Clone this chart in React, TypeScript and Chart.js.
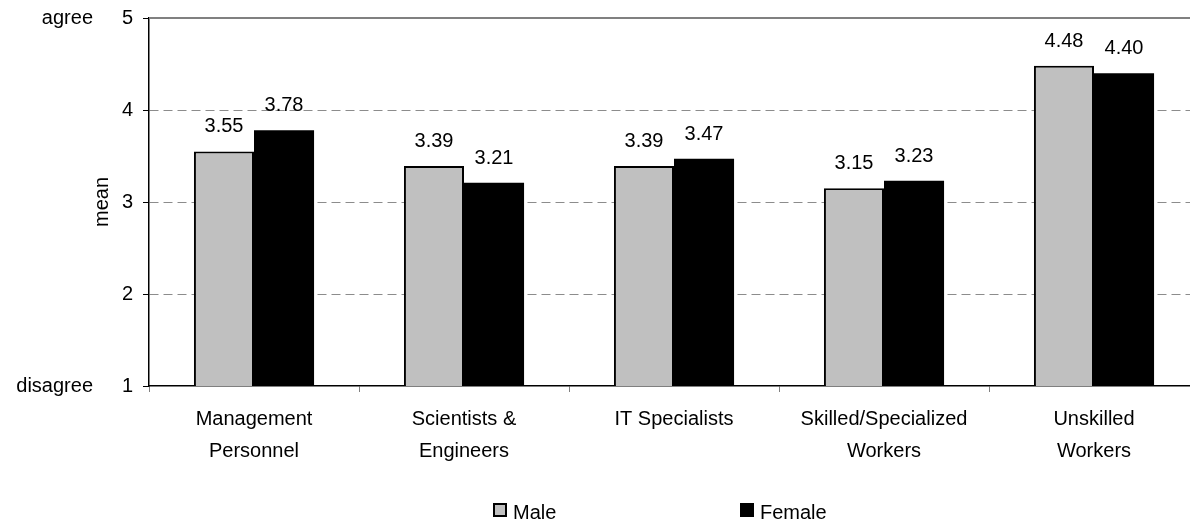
import React, { useEffect, useRef } from "react";
import { Chart, registerables } from "chart.js";
Chart.register(...registerables);

const categories: string[][] = [
  ["Management", "Personnel"],
  ["Scientists &", "Engineers"],
  ["IT Specialists"],
  ["Skilled/Specialized", "Workers"],
  ["Unskilled", "Workers"],
];
const maleValues = [3.55, 3.39, 3.39, 3.15, 4.48];
const femaleValues = [3.78, 3.21, 3.47, 3.23, 4.4];
const seriesNames = ["Male", "Female"];
const seriesColors = ["#C0C0C0", "#000000"];
const yMin = 1;
const yMax = 5;
const endValues = [5, 1];
const endLabels = ["agree", "disagree"];
const yTitle = "mean";

const FONT = "'Liberation Sans', Arial, sans-serif";

const extrasPlugin = {
  id: "extras",
  afterDatasetsDraw(chart: any) {
    const { ctx, chartArea } = chart;
    const y = chart.scales.y;
    ctx.save();
    // top border line
    ctx.strokeStyle = "#808080";
    ctx.lineWidth = 2;
    ctx.beginPath();
    const yt = y.getPixelForValue(yMax);
    ctx.moveTo(chartArea.left, yt);
    ctx.lineTo(chartArea.right + 2, yt);
    ctx.stroke();
    // value labels
    ctx.fillStyle = "#000";
    ctx.font = `20px ${FONT}`;
    ctx.textAlign = "center";
    ctx.textBaseline = "alphabetic";
    chart.data.datasets.forEach((ds: any, i: number) => {
      const meta = chart.getDatasetMeta(i);
      meta.data.forEach((el: any, j: number) => {
        ctx.fillText(Number(ds.data[j]).toFixed(2), el.x, el.y - 19);
      });
    });
    // end labels
    ctx.textAlign = "right";
    ctx.textBaseline = "middle";
    endValues.forEach((v, i) => {
      ctx.fillText(endLabels[i], 93, y.getPixelForValue(v));
    });
    // legend
    const legendX = [493, 740];
    seriesNames.forEach((name, i) => {
      const bx = legendX[i];
      const by = 503;
      ctx.fillStyle = seriesColors[i];
      ctx.fillRect(bx, by, 14, 14);
      ctx.strokeStyle = "#000";
      ctx.lineWidth = 2;
      ctx.strokeRect(bx + 1, by + 1, 12, 12);
      ctx.fillStyle = "#000";
      ctx.textAlign = "left";
      ctx.textBaseline = "alphabetic";
      ctx.fillText(name, bx + 20, 519);
    });
    ctx.restore();
  },
};

export default function App() {
  const ref = useRef<HTMLCanvasElement>(null);
  useEffect(() => {
    if (!ref.current) return;
    const chart = new Chart(ref.current, {
      type: "bar",
      data: {
        labels: categories,
        datasets: [
          {
            label: seriesNames[0],
            data: maleValues,
            backgroundColor: seriesColors[0],
            borderColor: "#000",
            borderWidth: 2,
            categoryPercentage: 0.572,
            barPercentage: 1,
          },
          {
            label: seriesNames[1],
            data: femaleValues,
            backgroundColor: seriesColors[1],
            borderColor: "#000",
            borderWidth: 0,
            categoryPercentage: 0.572,
            barPercentage: 1,
          },
        ],
      },
      options: {
        responsive: false,
        animation: false,
        devicePixelRatio: 1,
        layout: { padding: { left: 0, right: 1, top: 18, bottom: 0 } },
        plugins: { legend: { display: false }, tooltip: { enabled: false } },
        scales: {
          x: {
            grid: {
              drawOnChartArea: false,
              drawTicks: true,
              tickLength: 6,
              tickColor: "#808080",
              tickWidth: 1,
            },
            border: { color: "#000", width: 1.5 },
            ticks: {
              color: "#000",
              font: { family: FONT, size: 20, lineHeight: 1.6 },
              padding: 11,
              maxRotation: 0,
              autoSkip: false,
            },
            afterFit(scale: any) {
              scale.height = 139;
              scale.paddingLeft = 0;
              scale.paddingRight = 0;
            },
          },
          y: {
            min: yMin,
            max: yMax,
            grid: {
              color: (c: any) =>
                c.tick && c.tick.value > yMin && c.tick.value < yMax ? "#8c8c8c" : "rgba(0,0,0,0)",
              tickColor: "#000",
              tickLength: 6,
              lineWidth: 1,
            },
            border: { color: "#000", width: 1.5, dash: [9, 5] },
            ticks: {
              stepSize: 1,
              color: "#000",
              font: { family: FONT, size: 20 },
              padding: 10,
            },
            title: {
              display: true,
              text: yTitle,
              color: "#000",
              font: { family: FONT, size: 20 },
              padding: { top: 90, bottom: 0 },
            },
            afterFit(scale: any) {
              scale.width = 149;
              scale.paddingTop = 0;
              scale.paddingBottom = 0;
            },
          },
        },
      },
      plugins: [extrasPlugin],
    });
    return () => chart.destroy();
  }, []);
  return (
    <div
      style={{
        position: "fixed",
        left: 0,
        top: 0,
        width: 1190,
        height: 525,
        overflow: "hidden",
        background: "#fff",
      }}
    >
      <canvas ref={ref} width={1200} height={525} style={{ width: 1200, height: 525, display: "block" }} />
    </div>
  );
}
